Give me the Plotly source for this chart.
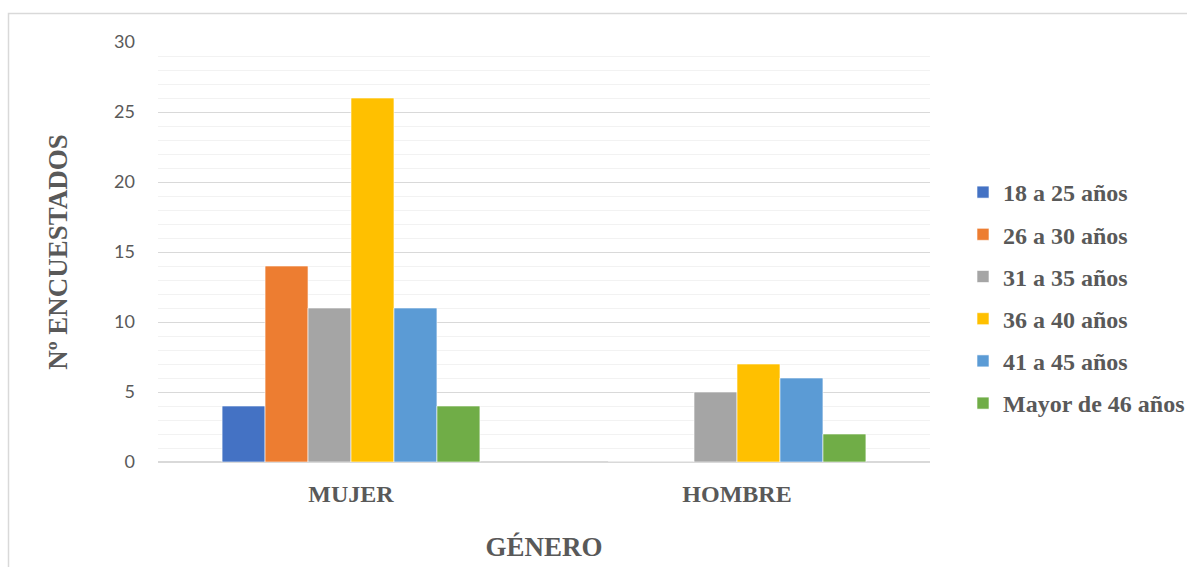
import plotly.graph_objects as go

categories = ["MUJER", "HOMBRE"]
series_names = ["18 a 25 años", "26 a 30 años", "31 a 35 años", "36 a 40 años", "41 a 45 años", "Mayor de 46 años"]
series_values = [
    [4, 0],
    [14, 0],
    [11, 5],
    [26, 7],
    [11, 6],
    [4, 2],
]
colors = ["#4472C4", "#ED7D31", "#A5A5A5", "#FFC000", "#5B9BD5", "#70AD47"]

W, H = 1187, 567
ml, mr, mt, mb = 158, 257, 42, 105
pw, ph = W - ml - mr, H - mt - mb

fig = go.Figure()
for i, (name, vals) in enumerate(zip(series_names, series_values)):
    fig.add_trace(go.Bar(
        x=categories, y=vals, name=name,
        marker=dict(color=colors[i], line=dict(color="white", width=0.6)),
        legendgroup=f"g{i}",
    ))

def px_x(px):
    return (px - ml) / pw

def px_y(py):
    return 1 - (py - mt) / ph

serif = "Liberation Serif, Times New Roman, serif"
textcol = "#595959"

fig.update_layout(
    width=W, height=H,
    margin=dict(l=ml, r=mr, t=mt, b=mb, autoexpand=False),
    paper_bgcolor="white", plot_bgcolor="white",
    barmode="group", bargap=0.332, bargroupgap=0,
    showlegend=True,
    legend=dict(
        x=px_x(963), xanchor="left",
        y=px_y(170), yanchor="top",
        font=dict(family=serif, size=24, color=textcol, weight="bold"),
        tracegroupgap=8,
        itemwidth=30,
        bgcolor="rgba(0,0,0,0)",
    ),
    xaxis=dict(
        showgrid=False, showline=False, zeroline=False,
        tickfont=dict(family=serif, size=24, color=textcol, weight="bold"),
        ticklabelstandoff=15,
        title=dict(text="GÉNERO", font=dict(family=serif, size=27, color=textcol, weight="bold"), standoff=31),
    ),
    yaxis=dict(
        range=[0, 30], dtick=5, tick0=0,
        showgrid=True, gridcolor="#D9D9D9", gridwidth=1,
        zeroline=True, zerolinecolor="#D9D9D9", zerolinewidth=1.5,
        showline=False,
        minor=dict(dtick=1, showgrid=True, gridcolor="#F2F2F2", gridwidth=1),
        tickfont=dict(family="Lato, Open Sans, sans-serif", size=18, color=textcol),
        ticklabelstandoff=22,
        title=dict(text="Nº ENCUESTADOS", font=dict(family=serif, size=27, color=textcol, weight="bold"), standoff=38),
    ),
    shapes=[dict(
        type="rect", xref="paper", yref="paper",
        x0=px_x(8.5), x1=px_x(1200), y0=px_y(600), y1=px_y(13.5),
        line=dict(color="#D9D9D9", width=1.5), fillcolor="rgba(0,0,0,0)", layer="below",
    )],
)

fig.write_html("out.html")
